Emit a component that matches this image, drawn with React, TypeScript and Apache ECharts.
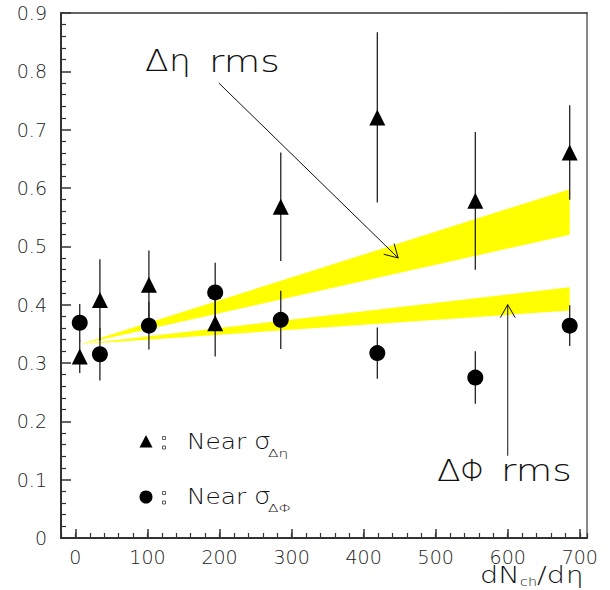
import React, { useEffect, useRef } from "react";
import * as echarts from "echarts";

// ---- axis ticks ----
const xTickValues = [0, 100, 200, 300, 400, 500, 600, 700];
const xMinorStep = 20;
const xRange = [-20, 710];
const yRange = [0, 0.9];
const yStep = 0.1;

// ---- data (dNch/deta, Near sigma values) ----
const dNchDeta = [6, 34, 102, 194, 285, 419, 555, 686];
const nearSigmaEta = [0.311, 0.408, 0.434, 0.368, 0.568, 0.721, 0.578, 0.661];
const nearSigmaEtaErr = [0.028, 0.07, 0.059, 0.057, 0.093, 0.146, 0.118, 0.081];
const nearSigmaPhi = [0.369, 0.315, 0.364, 0.421, 0.374, 0.317, 0.275, 0.364];
const nearSigmaPhiErr = [0.032, 0.045, 0.041, 0.051, 0.05, 0.044, 0.045, 0.035];

// ---- rms bands ----
const bandX = [7, 686];
const etaBandLow = [0.332, 0.52];
const etaBandHigh = [0.332, 0.598];
const phiBandLow = [0.332, 0.39];
const phiBandHigh = [0.332, 0.43];

// ---- annotation arrows [from, to] ----
const etaArrow = [[199, 0.78], [448, 0.48]];
const phiArrow = [[600, 0.141], [600, 0.4]];

const FONT = '"DejaVu Sans", "Noto Sans", sans-serif';
const INK = "#111";

function txt(x: number, baseline: number, text: string, size: number, sx = 1.25) {
  return {
    type: "text",
    x,
    y: baseline - 0.35 * size,
    scaleX: sx,
    z: 20,
    silent: true,
    style: {
      text,
      fontSize: size,
      fontFamily: FONT,
      fontWeight: 200,
      fill: INK,
      align: "left",
      verticalAlign: "middle",
    },
  };
}

function bandSeries(low: number[], high: number[]) {
  return {
    type: "custom",
    xAxisIndex: 0,
    yAxisIndex: 0,
    z: 1,
    silent: true,
    data: [[bandX[0], low[0]]],
    renderItem: (_p: any, api: any) => {
      const pts: number[][] = [];
      for (let i = 0; i < bandX.length; i++) pts.push(api.coord([bandX[i], high[i]]));
      for (let i = bandX.length - 1; i >= 0; i--) pts.push(api.coord([bandX[i], low[i]]));
      return { type: "polygon", shape: { points: pts }, style: { fill: "#ffff00" } };
    },
  };
}

function errorSeries(vals: number[], errs: number[]) {
  return {
    type: "custom",
    xAxisIndex: 0,
    yAxisIndex: 0,
    z: 2,
    silent: true,
    data: dNchDeta.map((x, i) => [x, vals[i] - errs[i], vals[i] + errs[i]]),
    encode: { x: 0, y: [1, 2] },
    renderItem: (_p: any, api: any) => {
      const a = api.coord([api.value(0), api.value(1)]);
      const b = api.coord([api.value(0), api.value(2)]);
      return {
        type: "line",
        shape: { x1: a[0], y1: a[1], x2: b[0], y2: b[1] },
        style: { stroke: "#222", lineWidth: 1.3 },
      };
    },
  };
}

function arrowSeries(arrows: number[][][]) {
  return {
    type: "custom",
    xAxisIndex: 0,
    yAxisIndex: 0,
    z: 4,
    silent: true,
    data: arrows.map((a) => [a[0][0], a[0][1], a[1][0], a[1][1]]),
    encode: { x: [0, 2], y: [1, 3] },
    renderItem: (_p: any, api: any) => {
      const p0 = api.coord([api.value(0), api.value(1)]);
      const p1 = api.coord([api.value(2), api.value(3)]);
      const ang = Math.atan2(p1[1] - p0[1], p1[0] - p0[0]);
      const L = 15;
      const h = 0.52;
      const left = [p1[0] - L * Math.cos(ang - h), p1[1] - L * Math.sin(ang - h)];
      const right = [p1[0] - L * Math.cos(ang + h), p1[1] - L * Math.sin(ang + h)];
      return {
        type: "group",
        children: [
          { type: "line", shape: { x1: p0[0], y1: p0[1], x2: p1[0], y2: p1[1] }, style: { stroke: INK, lineWidth: 1 } },
          { type: "polyline", shape: { points: [left, p1, right] }, style: { stroke: INK, lineWidth: 1, fill: "none" } },
        ],
      };
    },
  };
}

export default function App() {
  const ref = useRef<HTMLDivElement>(null);

  useEffect(() => {
    document.body.style.margin = "0";
    if (!ref.current) return;
    const chart = echarts.init(ref.current, undefined, { renderer: "svg" });

    const axisLabelStyle = { fontFamily: FONT, fontSize: 19, color: "#222", fontWeight: 200 };

    const option: any = {
      animation: false,
      backgroundColor: "#fff",
      grid: { left: 61, right: 23, top: 13, bottom: 52, containLabel: false },
      xAxis: [
        {
          type: "value",
          min: xRange[0],
          max: xRange[1],
          position: "bottom",
          axisLine: { show: true, onZero: false, lineStyle: { color: "#333", width: 2 } },
          axisTick: { show: true, inside: true, length: 9, customValues: xTickValues, lineStyle: { color: "#333", width: 1.5 } },
          axisLabel: { show: true, customValues: xTickValues, margin: 9, ...axisLabelStyle },
          splitLine: { show: false },
        },
        {
          type: "value",
          min: xRange[0],
          max: xRange[1],
          interval: xMinorStep,
          position: "bottom",
          axisLine: { show: false, onZero: false },
          axisTick: { show: true, inside: true, length: 5, lineStyle: { color: "#333", width: 1.2 } },
          axisLabel: { show: false },
          splitLine: { show: false },
        },
        {
          type: "value",
          min: xRange[0],
          max: xRange[1],
          position: "top",
          axisLine: { show: true, onZero: false, lineStyle: { color: "#333", width: 1.5 } },
          axisTick: { show: false },
          axisLabel: { show: false },
          splitLine: { show: false },
        },
      ],
      yAxis: [
        {
          type: "value",
          min: yRange[0],
          max: yRange[1],
          interval: yStep,
          position: "left",
          axisLine: { show: true, onZero: false, lineStyle: { color: "#333", width: 2 } },
          axisTick: { show: true, inside: true, length: 10, lineStyle: { color: "#333", width: 1.5 } },
          minorTick: { show: true, splitNumber: 5, length: 5, lineStyle: { color: "#333", width: 1.2 } },
          axisLabel: { show: true, margin: 14, ...axisLabelStyle },
          splitLine: { show: false },
          minorSplitLine: { show: false },
        },
        {
          type: "value",
          min: yRange[0],
          max: yRange[1],
          position: "right",
          axisLine: { show: true, onZero: false, lineStyle: { color: "#888", width: 2 } },
          axisTick: { show: false },
          axisLabel: { show: false },
          splitLine: { show: false },
        },
      ],
      series: [
        bandSeries(etaBandLow, etaBandHigh),
        bandSeries(phiBandLow, phiBandHigh),
        errorSeries(nearSigmaEta, nearSigmaEtaErr),
        errorSeries(nearSigmaPhi, nearSigmaPhiErr),
        {
          type: "scatter",
          name: "Near sigma deta",
          xAxisIndex: 0,
          yAxisIndex: 0,
          symbol: "triangle",
          symbolSize: 16,
          z: 3,
          silent: true,
          itemStyle: { color: "#000", opacity: 1 },
          data: dNchDeta.map((x, i) => [x, nearSigmaEta[i]]),
        },
        {
          type: "scatter",
          name: "Near sigma dphi",
          xAxisIndex: 0,
          yAxisIndex: 0,
          symbol: "circle",
          symbolSize: 16,
          z: 3,
          silent: true,
          itemStyle: { color: "#000", opacity: 1 },
          data: dNchDeta.map((x, i) => [x, nearSigmaPhi[i]]),
        },
        arrowSeries([etaArrow, phiArrow]),
      ],
      graphic: [
        // annotation labels
        txt(145, 71.5, "Δ", 30, 1.15),
        txt(169, 71.5, "η", 30, 1.15),
        txt(209, 71.5, "rms", 30, 1.25),
        txt(437, 481, "Δ", 30, 1.15),
        txt(460, 481, "Φ", 30, 1.0),
        txt(501, 481, "rms", 30, 1.25),
        // legend row 1
        { type: "polygon", silent: true, z: 20, shape: { points: [[139.5, 447.5], [152.5, 447.5], [146, 435]] }, style: { fill: "#000" } },
        { type: "rect", silent: true, z: 20, shape: { x: 162.5, y: 436.5, width: 3, height: 3 }, style: { fill: "none", stroke: "#333", lineWidth: 0.8 } },
        { type: "rect", silent: true, z: 20, shape: { x: 162.5, y: 446, width: 3, height: 3 }, style: { fill: "none", stroke: "#333", lineWidth: 0.8 } },
        txt(187, 449, "Near", 21, 1.18),
        txt(254, 449, "σ", 23, 1.15),
        txt(268, 457, "Δη", 11, 1.4),
        // legend row 2
        { type: "circle", silent: true, z: 20, shape: { cx: 146, cy: 497, r: 6.5 }, style: { fill: "#000" } },
        { type: "rect", silent: true, z: 20, shape: { x: 162.5, y: 491.5, width: 3, height: 3 }, style: { fill: "none", stroke: "#333", lineWidth: 0.8 } },
        { type: "rect", silent: true, z: 20, shape: { x: 162.5, y: 501, width: 3, height: 3 }, style: { fill: "none", stroke: "#333", lineWidth: 0.8 } },
        txt(187, 504, "Near", 21, 1.18),
        txt(254, 504, "σ", 23, 1.15),
        txt(268, 512, "ΔΦ", 11, 1.4),
        // axis title
        txt(480, 583, "dN", 23, 1.25),
        txt(520, 586, "ch", 12, 1.2),
        txt(537, 583, "/d", 23, 1.25),
        txt(566, 583, "η", 23, 1.2),
      ],
    };

    chart.setOption(option);
    return () => chart.dispose();
  }, []);

  return <div ref={ref} style={{ width: 610, height: 590 }} />;
}
